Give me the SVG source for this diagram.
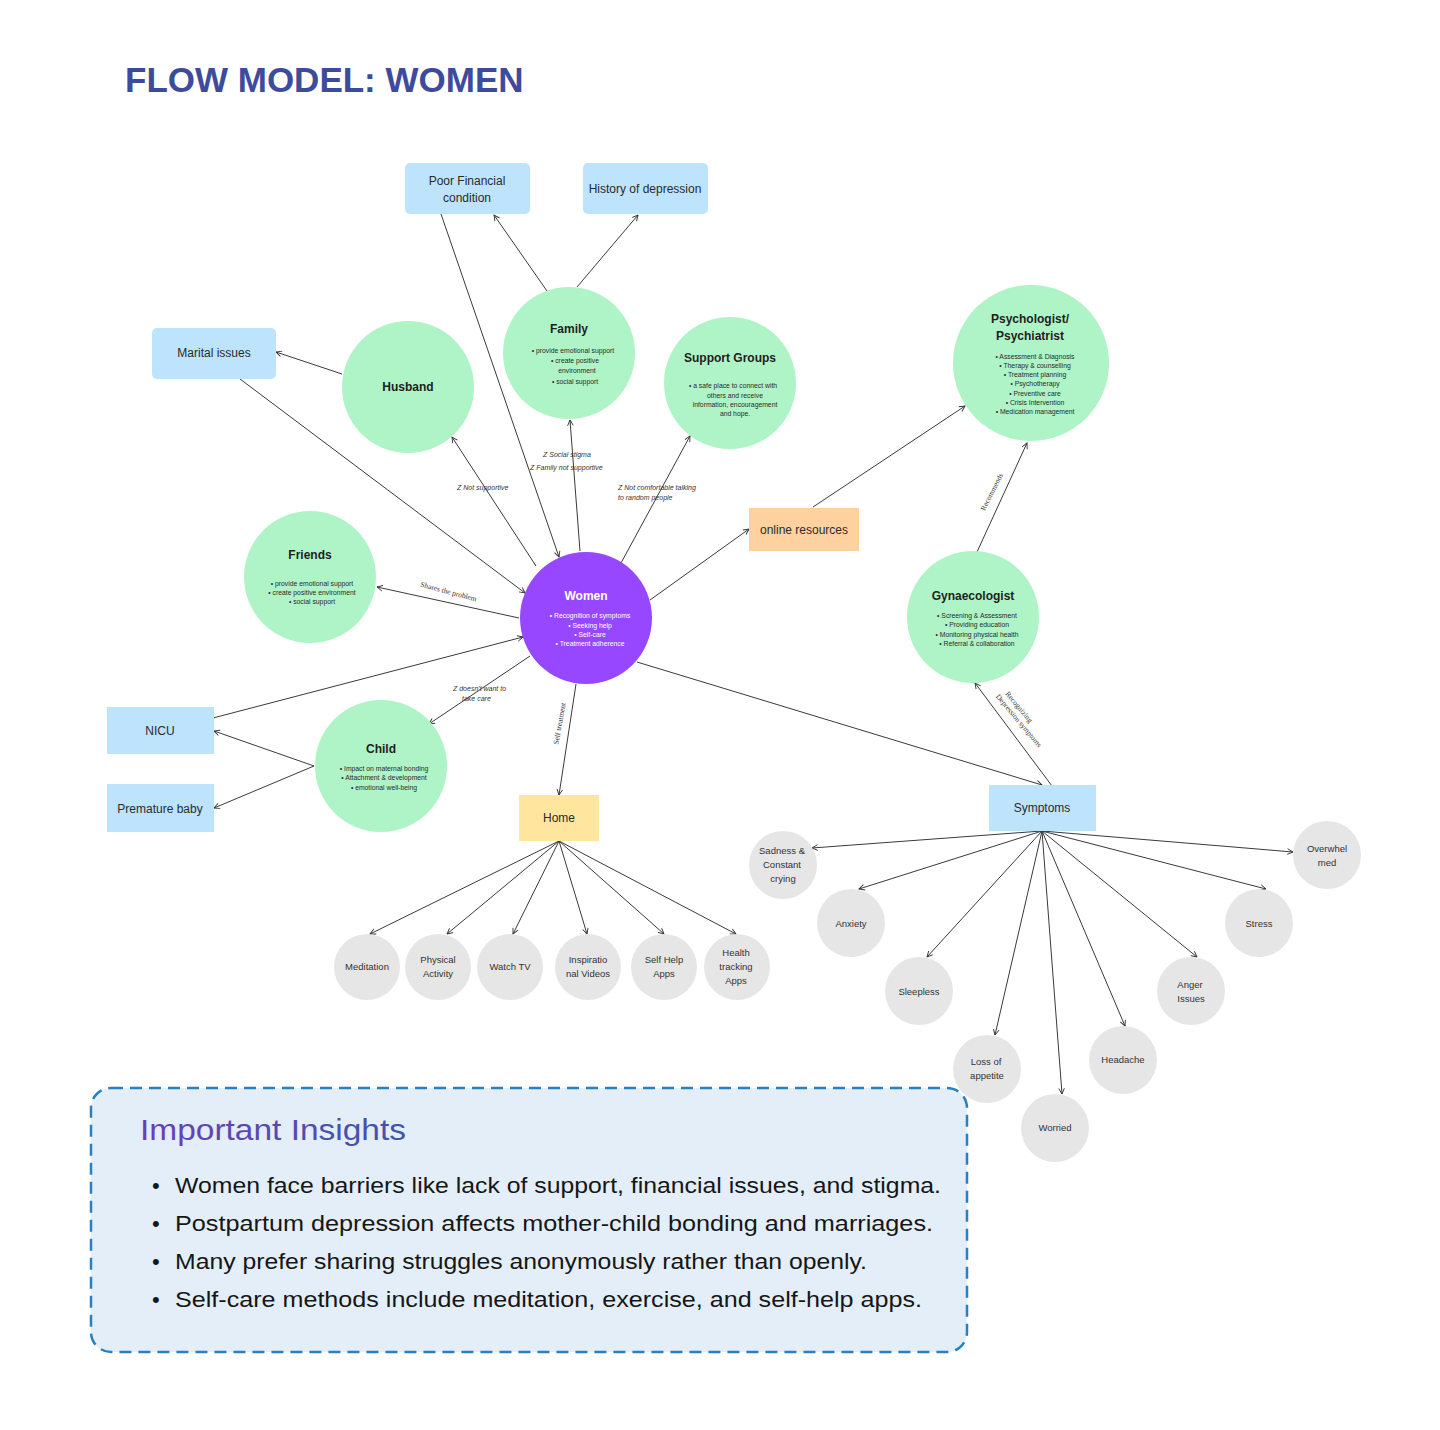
<svg xmlns="http://www.w3.org/2000/svg" width="1440" height="1430" viewBox="0 0 1440 1430">
<defs>
<marker id="arr" viewBox="0 0 10 10" refX="9" refY="5" markerWidth="7" markerHeight="7" orient="auto" markerUnits="userSpaceOnUse">
<path d="M1,1 L9,5 L1,9" fill="none" stroke="#333" stroke-width="1.3"/>
</marker>
<linearGradient id="tg" x1="0" y1="0" x2="1" y2="0">
<stop offset="0" stop-color="#6b3fb8"/>
<stop offset="1" stop-color="#3f55a8"/>
</linearGradient>
</defs>
<style>
text{font-family:"Liberation Sans",Arial,sans-serif;}
.green{fill:#aff4c6;}
.blue{fill:#bde3fd;}
.gray{fill:#e6e6e6;}
.t{font-size:12px;font-weight:bold;fill:#1e1e1e;text-anchor:middle;}
.b{font-size:6.8px;fill:#2a2a2a;text-anchor:middle;}
.bw{font-size:6.8px;fill:#ffffff;text-anchor:middle;}
.lbl{font-size:12px;fill:#2b2b2b;text-anchor:middle;}
.g{font-size:9.5px;fill:#333;text-anchor:middle;}
.hw{font-size:7px;font-style:italic;fill:#333;}
.sf{font-family:"Liberation Serif","Times New Roman",serif;font-size:7.5px;fill:#333;}
.ln{stroke:#3a3a3a;stroke-width:1;fill:none;marker-end:url(#arr);}
.ins{font-size:22px;fill:#161616;}
</style>
<rect width="1440" height="1430" fill="#ffffff"/>

<text x="125" y="92" style="font-size:35px;font-weight:bold;fill:#3e4a9b;">FLOW MODEL: WOMEN</text>

<g id="connectors">
<line class="ln" x1="547" y1="291" x2="494" y2="215"/>
<line class="ln" x1="577" y1="287" x2="638" y2="215"/>
<line class="ln" x1="441" y1="214" x2="559" y2="557"/>
<line class="ln" x1="342" y1="374" x2="276" y2="352"/>
<line class="ln" x1="240" y1="379" x2="525" y2="593"/>
<line class="ln" x1="536" y1="566" x2="452" y2="437"/>
<line class="ln" x1="580" y1="551" x2="570" y2="420"/>
<line class="ln" x1="621" y1="563" x2="690" y2="436"/>
<line class="ln" x1="519" y1="618" x2="377" y2="587"/>
<line class="ln" x1="213" y1="718" x2="523" y2="637"/>
<line class="ln" x1="314" y1="766" x2="214" y2="731"/>
<line class="ln" x1="314" y1="766" x2="214" y2="808"/>
<line class="ln" x1="530" y1="656" x2="429" y2="724"/>
<line class="ln" x1="576" y1="684" x2="559" y2="795"/>
<line class="ln" x1="650" y1="600" x2="749" y2="529"/>
<line class="ln" x1="813" y1="507" x2="965" y2="406"/>
<line class="ln" x1="637" y1="662" x2="1042" y2="785"/>
<line class="ln" x1="1052" y1="786" x2="975" y2="683"/>
<line class="ln" x1="977" y1="552" x2="1027" y2="443"/>
<line class="ln" x1="559" y1="841" x2="370" y2="934"/>
<line class="ln" x1="559" y1="841" x2="447" y2="934"/>
<line class="ln" x1="559" y1="841" x2="513" y2="934"/>
<line class="ln" x1="559" y1="841" x2="587" y2="934"/>
<line class="ln" x1="559" y1="841" x2="664" y2="934"/>
<line class="ln" x1="559" y1="841" x2="736" y2="934"/>
<line class="ln" x1="1042" y1="831" x2="812" y2="848"/>
<line class="ln" x1="1042" y1="831" x2="859" y2="889"/>
<line class="ln" x1="1042" y1="831" x2="927" y2="957"/>
<line class="ln" x1="1042" y1="831" x2="995" y2="1035"/>
<line class="ln" x1="1042" y1="831" x2="1062" y2="1094"/>
<line class="ln" x1="1042" y1="831" x2="1125" y2="1026"/>
<line class="ln" x1="1042" y1="831" x2="1197" y2="957"/>
<line class="ln" x1="1042" y1="831" x2="1266" y2="889"/>
<line class="ln" x1="1042" y1="831" x2="1293" y2="852"/>
<text class="hw" x="457" y="490">Z Not supportive</text>
<text class="hw" x="543" y="457">Z Social stigma</text>
<text class="hw" x="530" y="470">Z Family not supportive</text>
<text class="hw" x="618" y="490">Z Not comfortable talking</text>
<text class="hw" x="618" y="500">to random people</text>
<text class="hw" x="453" y="691">Z doesn't want to</text>
<text class="hw" x="462" y="701">take care</text>
<text class="sf" text-anchor="middle" transform="translate(448,594) rotate(15)">Shares the problem</text>
<text class="sf" text-anchor="middle" transform="translate(562,724) rotate(-80)">Self treatment</text>
<text class="sf" text-anchor="middle" transform="translate(994,493) rotate(-63)">Recommends</text>
<text class="sf" transform="translate(1005,694) rotate(50)"><tspan x="0" y="0">Recognizing</tspan><tspan x="-4" y="9">Depression symptoms</tspan></text>
</g>

<g id="poor-financial">
<rect class="blue" x="405" y="163" width="125" height="51" rx="5"/>
<text class="lbl" x="467" y="185">Poor Financial</text>
<text class="lbl" x="467" y="202">condition</text>
</g>
<g id="history-depression">
<rect class="blue" x="583" y="163" width="125" height="51" rx="5"/>
<text class="lbl" x="645" y="193">History of depression</text>
</g>
<g id="marital-issues">
<rect class="blue" x="152" y="328" width="124" height="51" rx="5"/>
<text class="lbl" x="214" y="357">Marital issues</text>
</g>
<g id="husband">
<circle class="green" cx="408" cy="387" r="66"/>
<text class="t" x="408" y="391">Husband</text>
</g>
<g id="family">
<circle class="green" cx="569" cy="353" r="66"/>
<text class="t" x="569" y="333">Family</text>
<text class="b" x="573" y="353">•  provide emotional support</text>
<text class="b" x="575" y="363">•  create positive</text>
<text class="b" x="577" y="373">environment</text>
<text class="b" x="575" y="384">•  social support</text>
</g>
<g id="support-groups">
<circle class="green" cx="730" cy="383" r="66"/>
<text class="t" x="730" y="362">Support Groups</text>
<text class="b" x="733" y="388">•  a safe place to connect with</text>
<text class="b" x="735" y="398">others and receive</text>
<text class="b" x="735" y="407">information, encouragement</text>
<text class="b" x="735" y="416">and hope.</text>
</g>
<g id="psychologist">
<circle class="green" cx="1031" cy="363" r="78"/>
<text class="t" x="1030" y="323">Psychologist/</text>
<text class="t" x="1030" y="340">Psychiatrist</text>
<text class="b" x="1035" y="359">•  Assessment &amp; Diagnosis</text>
<text class="b" x="1035" y="368">•  Therapy &amp; counselling</text>
<text class="b" x="1035" y="377">•  Treatment planning</text>
<text class="b" x="1035" y="386">•  Psychotherapy</text>
<text class="b" x="1035" y="396">•  Preventive care</text>
<text class="b" x="1035" y="405">•  Crisis Intervention</text>
<text class="b" x="1035" y="414">•  Medication management</text>
</g>
<g id="online-resources">
<rect x="749" y="508" width="110" height="43" fill="#fdd29f"/>
<text class="lbl" x="804" y="534">online resources</text>
</g>
<g id="friends">
<circle class="green" cx="310" cy="577" r="66"/>
<text class="t" x="310" y="559">Friends</text>
<text class="b" x="312" y="586">•  provide emotional support</text>
<text class="b" x="312" y="595">•  create positive environment</text>
<text class="b" x="312" y="604">•  social support</text>
</g>
<g id="women">
<circle cx="586" cy="618" r="66" fill="#9747ff"/>
<text class="t" x="586" y="600" style="fill:#ffffff">Women</text>
<text class="bw" x="590" y="618">•  Recognition of symptoms</text>
<text class="bw" x="590" y="628">•  Seeking help</text>
<text class="bw" x="590" y="637">•  Self-care</text>
<text class="bw" x="590" y="646">•  Treatment adherence</text>
</g>
<g id="gynaecologist">
<circle class="green" cx="973" cy="617" r="66"/>
<text class="t" x="973" y="600">Gynaecologist</text>
<text class="b" x="977" y="618">•  Screening &amp; Assessment</text>
<text class="b" x="977" y="627">•  Providing education</text>
<text class="b" x="977" y="637">•  Monitoring physical health</text>
<text class="b" x="977" y="646">•  Referral &amp; collaboration</text>
</g>
<g id="nicu">
<rect class="blue" x="107" y="707" width="107" height="47"/>
<text class="lbl" x="160" y="735">NICU</text>
</g>
<g id="premature-baby">
<rect class="blue" x="107" y="784" width="107" height="48"/>
<text class="lbl" x="160" y="813">Premature baby</text>
</g>
<g id="child">
<circle class="green" cx="381" cy="766" r="66"/>
<text class="t" x="381" y="753">Child</text>
<text class="b" x="384" y="771">•  Impact on maternal bonding</text>
<text class="b" x="384" y="780">•  Attachment &amp; development</text>
<text class="b" x="384" y="790">•  emotional well-being</text>
</g>
<g id="home">
<rect x="519" y="795" width="80" height="46" fill="#ffe59e"/>
<text class="lbl" x="559" y="822">Home</text>
</g>
<g id="symptoms">
<rect class="blue" x="989" y="785" width="107" height="46"/>
<text class="lbl" x="1042" y="812">Symptoms</text>
</g>

<g id="meditation"><circle class="gray" cx="367" cy="967" r="33"/><text class="g" x="367" y="970">Meditation</text></g>
<g id="physical-activity"><circle class="gray" cx="438" cy="967" r="33"/><text class="g" x="438" y="963">Physical</text><text class="g" x="438" y="977">Activity</text></g>
<g id="watch-tv"><circle class="gray" cx="510" cy="967" r="33"/><text class="g" x="510" y="970">Watch TV</text></g>
<g id="inspirational-videos"><circle class="gray" cx="588" cy="967" r="33"/><text class="g" x="588" y="963">Inspiratio</text><text class="g" x="588" y="977">nal Videos</text></g>
<g id="self-help-apps"><circle class="gray" cx="664" cy="967" r="33"/><text class="g" x="664" y="963">Self Help</text><text class="g" x="664" y="977">Apps</text></g>
<g id="health-tracking-apps"><circle class="gray" cx="737" cy="967" r="33"/><text class="g" x="736" y="956">Health</text><text class="g" x="736" y="970">tracking</text><text class="g" x="736" y="984">Apps</text></g>

<g id="sadness"><circle class="gray" cx="783" cy="865" r="34"/><text class="g" x="782" y="854">Sadness &amp;</text><text class="g" x="782" y="868">Constant</text><text class="g" x="783" y="882">crying</text></g>
<g id="anxiety"><circle class="gray" cx="851" cy="923" r="34"/><text class="g" x="851" y="927">Anxiety</text></g>
<g id="sleepless"><circle class="gray" cx="919" cy="991" r="34"/><text class="g" x="919" y="995">Sleepless</text></g>
<g id="loss-of-appetite"><circle class="gray" cx="987" cy="1069" r="34"/><text class="g" x="986" y="1065">Loss of</text><text class="g" x="987" y="1079">appetite</text></g>
<g id="worried"><circle class="gray" cx="1055" cy="1128" r="34"/><text class="g" x="1055" y="1131">Worried</text></g>
<g id="headache"><circle class="gray" cx="1123" cy="1060" r="34"/><text class="g" x="1123" y="1063">Headache</text></g>
<g id="anger-issues"><circle class="gray" cx="1191" cy="991" r="34"/><text class="g" x="1190" y="988">Anger</text><text class="g" x="1191" y="1002">Issues</text></g>
<g id="stress"><circle class="gray" cx="1259" cy="923" r="34"/><text class="g" x="1259" y="927">Stress</text></g>
<g id="overwhelmed"><circle class="gray" cx="1327" cy="855" r="34"/><text class="g" x="1327" y="852">Overwhel</text><text class="g" x="1327" y="866">med</text></g>

<g id="insights">
<rect x="91" y="1088" width="876" height="264" rx="20" fill="#e3eef8" stroke="#2a7fc0" stroke-width="2.5" stroke-dasharray="12 7"/>
<text x="140" y="1140" style="font-size:30px;fill:url(#tg);" textLength="266" lengthAdjust="spacingAndGlyphs">Important Insights</text>
<text class="ins" x="152" y="1193">•</text>
<text class="ins" x="175" y="1193" textLength="766" lengthAdjust="spacingAndGlyphs">Women face barriers like lack of support, financial issues, and stigma.</text>
<text class="ins" x="152" y="1231">•</text>
<text class="ins" x="175" y="1231" textLength="758" lengthAdjust="spacingAndGlyphs">Postpartum depression affects mother-child bonding and marriages.</text>
<text class="ins" x="152" y="1269">•</text>
<text class="ins" x="175" y="1269" textLength="692" lengthAdjust="spacingAndGlyphs">Many prefer sharing struggles anonymously rather than openly.</text>
<text class="ins" x="152" y="1307">•</text>
<text class="ins" x="175" y="1307" textLength="747" lengthAdjust="spacingAndGlyphs">Self-care methods include meditation, exercise, and self-help apps.</text>
</g>
</svg>
